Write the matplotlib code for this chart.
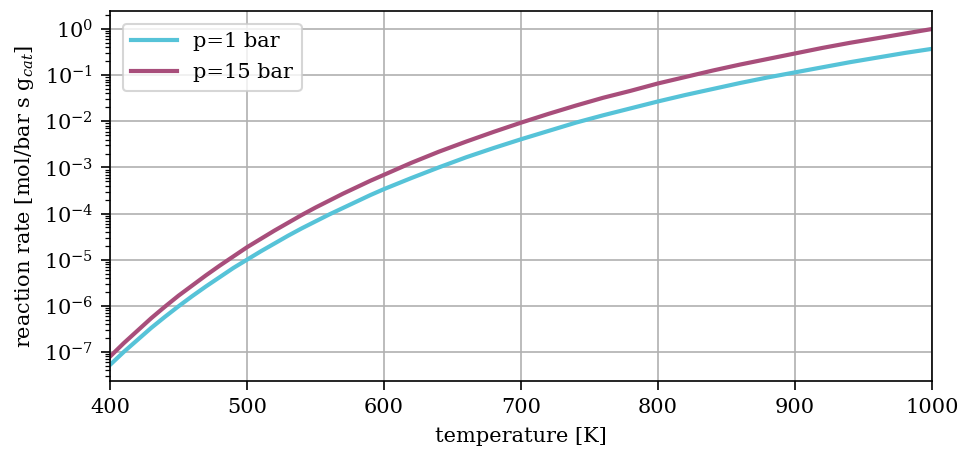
import numpy as np
import matplotlib
matplotlib.use("Agg")
from matplotlib import pyplot as plt

plt.rcParams['font.family'] = 'DejaVu Serif'
plt.rcParams['mathtext.fontset'] = 'dejavuserif'
plt.rcParams['font.size'] = 10
plt.rcParams['xtick.major.size'] = 4.5
plt.rcParams['ytick.major.size'] = 4.5
plt.rcParams['ytick.minor.size'] = 2.5

# temperature [K]
temperature = [400, 410, 420, 430, 440, 450, 460, 470, 480, 490, 500,
               510, 520, 530, 540, 550, 560, 570, 580, 590, 600,
               620, 640, 660, 680, 700, 720, 740, 760, 780, 800,
               820, 840, 860, 880, 900, 920, 940, 960, 980, 1000]

# log10 of reaction rate
log_rate_1bar = [-7.28, -7.00, -6.74, -6.48, -6.24, -6.01, -5.79, -5.58, -5.38, -5.18, -5.00,
                 -4.82, -4.65, -4.48, -4.32, -4.17, -4.02, -3.88, -3.74, -3.60, -3.47,
                 -3.23, -3.00, -2.78, -2.58, -2.39, -2.21, -2.03, -1.87, -1.72, -1.57,
                 -1.43, -1.30, -1.17, -1.05, -0.94, -0.83, -0.72, -0.62, -0.52, -0.43]
log_rate_15bar = [-7.10, -6.81, -6.54, -6.27, -6.02, -5.78, -5.56, -5.34, -5.13, -4.93, -4.73,
                  -4.55, -4.37, -4.20, -4.03, -3.87, -3.72, -3.57, -3.43, -3.29, -3.16,
                  -2.90, -2.66, -2.44, -2.23, -2.03, -1.84, -1.66, -1.49, -1.34, -1.18,
                  -1.04, -0.90, -0.77, -0.65, -0.53, -0.41, -0.30, -0.20, -0.10, 0.00]

labels = ['p=1 bar', 'p=15 bar']
colors = ['#56c3d8', '#a84e7b']

fig = plt.figure(figsize=(961 / 150, 455 / 150), dpi=150)
ax = fig.add_axes([0.1145, 0.1626, 0.9698 - 0.1145, 0.9758 - 0.1626])

for log_rate, label, color in zip([log_rate_1bar, log_rate_15bar], labels, colors):
    ax.plot(temperature, 10 ** np.array(log_rate), color=color, lw=2, label=label)

ax.set_yscale('log')
ax.set_xlim(400, 1000)
ax.set_ylim(10 ** -7.63, 10 ** 0.39)
ax.set_yticks([10.0 ** k for k in range(-7, 1)])

ax.set_xlabel('temperature [K]', labelpad=5)
ax.set_ylabel('reaction rate [mol/bar s g$_{cat}$]')
ax.grid(True, color='#b0b0b0', lw=0.8)
ax.legend(loc='upper left', borderaxespad=0.6, handlelength=2.2, labelspacing=0.6)

fig.savefig('out.png', dpi=150)
